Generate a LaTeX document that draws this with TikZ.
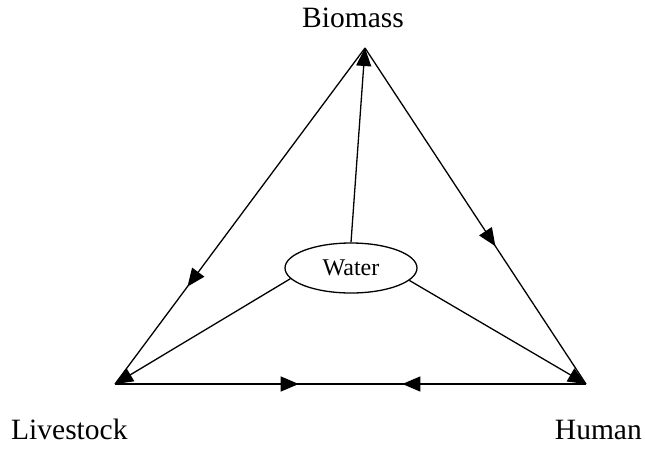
\documentclass[tikz,border=0pt]{standalone}
\usepackage{fontspec}
\setmainfont{Liberation Serif}
\usetikzlibrary{arrows.meta,decorations.markings,shapes.geometric}
\tikzset{
  tri/.tip={Triangle[length=18pt,width=15pt]},
  conn/.style={line width=1.3pt},
  midarrow/.style={postaction={decorate},decoration={markings,mark=at position #1 with {\arrow{tri}}}},
  lbl/.style={font=\fontsize{29.5}{34}\selectfont, inner sep=0pt},
  waterbox/.style={ellipse, draw, line width=1.3pt, minimum width=132pt, minimum height=50pt, inner sep=0pt, font=\fontsize{24}{28}\selectfont}
}
\begin{document}
\begin{tikzpicture}[x=1pt,y=-1pt]
\useasboundingbox (0,0) rectangle (645,451);
\coordinate (B) at (365,48);
\coordinate (L) at (115,384);
\coordinate (H) at (586,384);
\node[waterbox] (W) at (351,268) {Water};
\node[lbl, anchor=base] (tB) at (353,27) {Biomass};
\node[lbl, anchor=base west] (tL) at (11,439) {Livestock};
\node[lbl, anchor=base east] (tH) at (642,439) {Human};
% outer triangle
\draw[conn, midarrow=0.71] (B) -- (L);
\draw[conn, midarrow=0.59] (B) -- (H);
\draw[conn, midarrow=0.39] (L) -- (H);
\draw[conn, midarrow=0.39] (H) -- (L);
% from water
\draw[conn, -{tri}] (W.north) -- (B);
\draw[conn, -{tri}] (W.190) -- (L);
\draw[conn, -{tri}] (W.-12) -- (H);
\end{tikzpicture}
\end{document}
